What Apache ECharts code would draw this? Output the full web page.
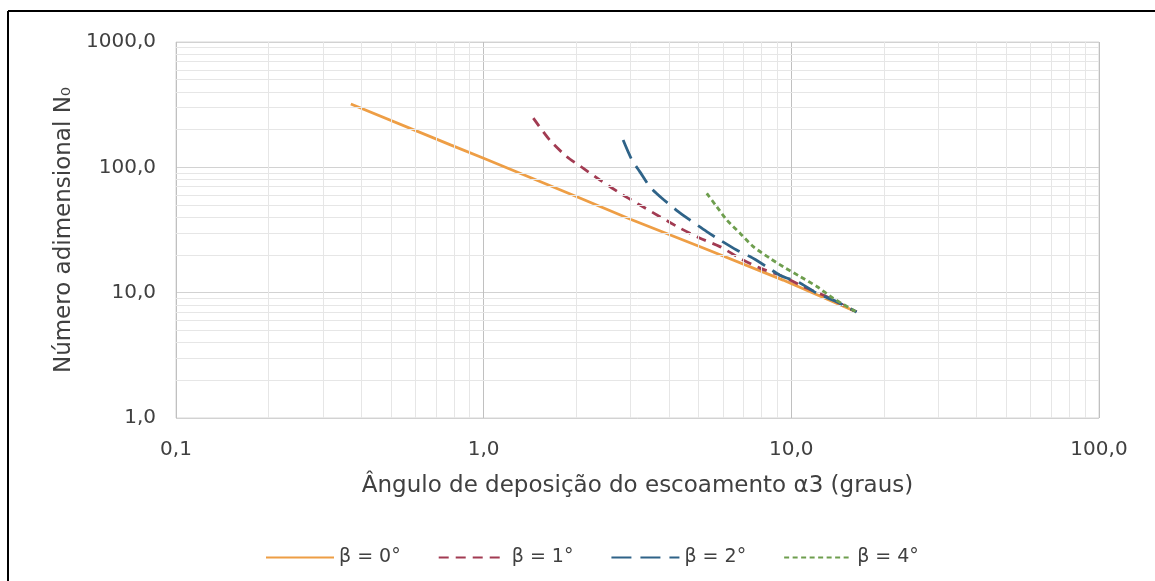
<!DOCTYPE html>
<html>
<head>
<meta charset="utf-8">
<script src="https://cdn.jsdelivr.net/npm/echarts@6/dist/echarts.min.js"></script>
<style>
  html, body { margin: 0; padding: 0; background: #ffffff; }
  #chart { width: 1155px; height: 581px; }
</style>
</head>
<body>
<div id="chart"></div>
<script>
// ---- data ----
const seriesNames = ['β = 0°', 'β = 1°', 'β = 2°', 'β = 4°'];

const alphaB0 = [0.37, 0.78, 1.0, 2.0, 3.0, 5.2, 9.4, 16.3];
const n0B0    = [320, 151, 118, 58.5, 38.5, 22.6, 12.6, 7.0];

const alphaB1 = [1.45, 1.64, 1.86, 2.11, 2.39, 2.84, 3.22, 3.74, 4.35, 5.05, 5.86, 6.81, 7.91, 9.42, 10.9, 13.0, 16.3];
const n0B1    = [247, 165, 122, 98, 79, 60, 50, 40.4, 32.7, 27.2, 23.3, 18.8, 15.7, 13.4, 11.2, 9.3, 7.0];

const alphaB2 = [2.84, 3.03, 3.22, 3.47, 3.79, 4.29, 4.68, 5.31, 5.86, 6.64, 7.34, 8.32, 9.18, 10.7, 12.1, 14.0, 16.3];
const n0B2    = [165, 115, 92, 70, 57, 44.3, 38, 30.7, 26.3, 21.9, 19.4, 16.1, 13.8, 11.9, 9.9, 8.5, 7.0];

const alphaB4 = [5.31, 5.72, 6.17, 6.81, 7.52, 8.52, 9.42, 10.7, 12.1, 13.7, 16.3];
const n0B4    = [62, 48.6, 38, 29.8, 23.3, 18.8, 16.1, 13.4, 11.2, 9.0, 7.0];

const xTickLabels = ['0,1', '1,0', '10,0', '100,0'];
const yTickLabels = ['1,0', '10,0', '100,0', '1000,0'];

const xMinor = [0.2,0.3,0.4,0.5,0.6,0.7,0.8,0.9, 2,3,4,5,6,7,8,9, 20,30,40,50,60,70,80,90];
const yMinor = [2,3,4,5,6,7,8,9, 20,30,40,50,60,70,80,90, 200,300,400,500,600,700,800,900];

const xTitle = 'Ângulo de deposição do escoamento α3 (graus)';
const yTitle = 'Número adimensional N₀';

// ---- build ----
function zip(a, b) { return a.map((v, i) => [v, b[i]]); }
const FONT = 'DejaVu Sans';
const TXT = '#404040';

const styles = [
  { color: '#EE9E45', type: 'solid' },
  { color: '#A23B52', type: [10, 7] },
  { color: '#2F6388', type: [20, 9] },
  { color: '#6E9E4E', type: [5, 3.5] }
];
const dataSets = [zip(alphaB0, n0B0), zip(alphaB1, n0B1), zip(alphaB2, n0B2), zip(alphaB4, n0B4)];

const mainSeries = seriesNames.map((name, i) => ({
  name: name,
  type: 'line',
  data: dataSets[i],
  symbol: 'none',
  showSymbol: false,
  smooth: i === 0 ? false : 0.25,
  z: 3 + i,
  itemStyle: { color: styles[i].color, opacity: 0 },
  lineStyle: { color: styles[i].color, width: 2.8, type: styles[i].type, cap: 'butt', opacity: 1 }
}));

const gridSeries = {
  name: 'grid-minor',
  type: 'line',
  data: [],
  symbol: 'none',
  z: 1,
  silent: true,
  markLine: {
    silent: true,
    symbol: ['none', 'none'],
    label: { show: false },
    animation: false,
    lineStyle: { color: '#E6E6E6', width: 1, type: 'solid' },
    emphasis: { disabled: true },
    data: xMinor.map(v => ({ xAxis: v })).concat(yMinor.map(v => ({ yAxis: v })))
  }
};

const chart = echarts.init(document.getElementById('chart'), null, { renderer: 'canvas' });
chart.setOption({
  animation: false,
  backgroundColor: '#ffffff',
  textStyle: { fontFamily: FONT, color: TXT },
  grid: {
    left: 176, top: 42, right: 56, bottom: 163,
    show: true, borderColor: '#D6D6D6', borderWidth: 1
  },
  legend: {
    data: seriesNames,
    left: 260,
    top: 543,
    itemWidth: 68,
    itemHeight: 14,
    itemGap: 37,
    itemStyle: { opacity: 0 },
    textStyle: { fontFamily: FONT, fontSize: 19, color: TXT }
  },
  xAxis: {
    type: 'log',
    logBase: 10,
    min: 0.1,
    max: 100,
    name: xTitle,
    nameLocation: 'middle',
    nameGap: 57,
    nameTextStyle: { fontFamily: FONT, fontSize: 23, color: TXT },
    axisLine: { show: false },
    axisTick: { show: false },
    axisLabel: {
      fontFamily: FONT, fontSize: 20, color: TXT, margin: 22,
      formatter: v => xTickLabels[Math.round(Math.log10(v)) + 1]
    },
    splitLine: { show: true, lineStyle: { color: '#C0C0C0', width: 1 } }
  },
  yAxis: {
    type: 'log',
    logBase: 10,
    min: 1,
    max: 1000,
    name: yTitle,
    nameLocation: 'middle',
    nameGap: 100,
    nameRotate: 90,
    nameTextStyle: { fontFamily: FONT, fontSize: 23, color: TXT },
    axisLine: { show: false },
    axisTick: { show: false },
    axisLabel: {
      fontFamily: FONT, fontSize: 20, color: TXT, margin: 20,
      formatter: v => yTickLabels[Math.round(Math.log10(v))]
    },
    splitLine: { show: true, lineStyle: { color: '#D2D2D2', width: 1 } }
  },
  graphic: [
    { type: 'line', silent: true, shape: { x1: 8, y1: 11, x2: 1155, y2: 11 }, style: { stroke: '#000000', lineWidth: 2 } },
    { type: 'line', silent: true, shape: { x1: 8, y1: 11, x2: 8, y2: 581 }, style: { stroke: '#000000', lineWidth: 2 } }
  ],
  series: [gridSeries].concat(mainSeries)
});
</script>
</body>
</html>
